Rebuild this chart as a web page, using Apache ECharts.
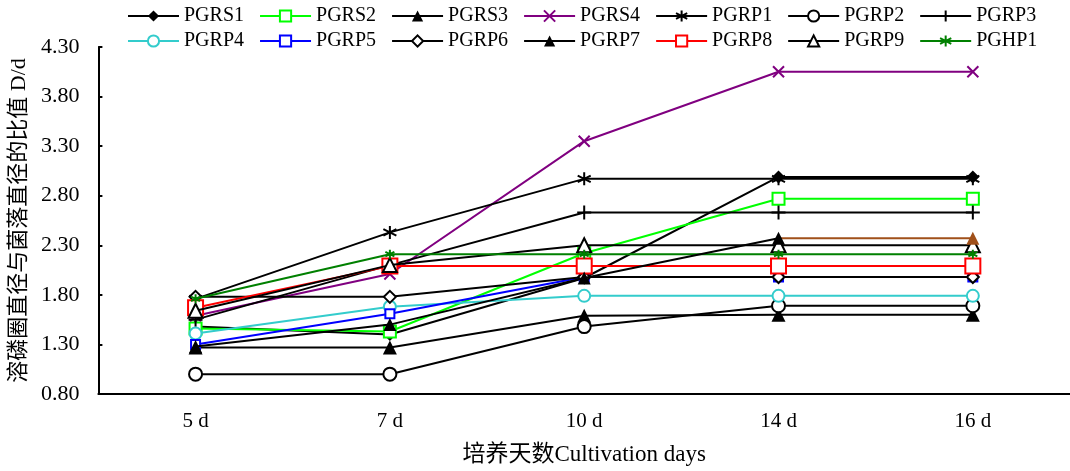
<!DOCTYPE html>
<html>
<head>
<meta charset="utf-8">
<script src="https://cdn.jsdelivr.net/npm/echarts@6/dist/echarts.min.js"></script>
<style>html,body{margin:0;padding:0;background:#fff;}#c{width:1070px;height:471px;}</style>
</head>
<body>
<div id="c"></div>
<script>
const days = ['5 d', '7 d', '10 d', '14 d', '16 d'];
const yTicks = { min: 0.8, max: 4.3, step: 0.5 };
const names = ['PGRS1','PGRS2','PGRS3','PGRS4','PGRP1','PGRP2','PGRP3','PGRP4','PGRP5','PGRP6','PGRP7','PGRP8','PGRP9','PGHP1'];
const PGRS1 = [1.48, 1.40, 1.97, 2.99, 2.99];
const PGRS2 = [1.46, 1.43, 2.22, 2.77, 2.77];
const PGRS3 = [1.27, 1.27, 1.59, 1.60, 1.60];
const PGRS4 = [1.59, 2.01, 3.35, 4.05, 4.05];
const PGRP1 = [1.76, 2.43, 2.97, 2.97, 2.97];
const PGRP2 = [1.00, 1.00, 1.48, 1.69, 1.69];
const PGRP3 = [1.55, 2.10, 2.63, 2.63, 2.63];
const PGRP4 = [1.41, 1.68, 1.79, 1.79, 1.79];
const PGRP5 = [1.30, 1.61, 1.98, 1.98, 1.98];
const PGRP6 = [1.78, 1.78, 1.98, 1.98, 1.98];
const PGRP7 = [1.28, 1.50, 1.97, 2.37, 2.37];
const PGRP8 = [1.67, 2.09, 2.09, 2.09, 2.09];
const PGRP9 = [1.64, 2.10, 2.30, 2.30, 2.30];
const PGHP1 = [1.76, 2.21, 2.21, 2.21, 2.21];
const values = [PGRS1,PGRS2,PGRS3,PGRS4,PGRP1,PGRP2,PGRP3,PGRP4,PGRP5,PGRP6,PGRP7,PGRP8,PGRP9,PGHP1];

const ASTER = 'path://M5,0L5,10M0.7,2.5L9.3,7.5M0.7,7.5L9.3,2.5';
const XMARK = 'path://M0,0L10,10M0,10L10,0';
const PLUS = 'path://M5,0L5,10M1,5L9,5';
const styles = [
  { color: '#000000', symbol: 'diamond', size: 13, filled: true },
  { color: '#00ff00', symbol: 'emptyRect', size: 12 },
  { color: '#000000', symbol: 'triangle', size: 14, filled: true },
  { color: '#800080', symbol: XMARK, size: 11 },
  { color: '#000000', symbol: ASTER, size: 13 },
  { color: '#000000', symbol: 'emptyCircle', size: 13 },
  { color: '#000000', symbol: PLUS, size: 14 },
  { color: '#33cccc', symbol: 'emptyCircle', size: 12 },
  { color: '#0000ff', symbol: 'emptyRect', size: 9 },
  { color: '#000000', symbol: 'emptyDiamond', size: 12 },
  { color: '#000000', symbol: 'triangle', size: 13, filled: true, top: true },
  { color: '#ff0000', symbol: 'emptyRect', size: 15 },
  { color: '#000000', symbol: 'emptyTriangle', size: 14 },
  { color: '#008000', symbol: ASTER, size: 9 }
];

const FONT = '"Liberation Serif", "Noto Sans CJK SC", serif';
const series = names.map((n, i) => ({
  name: n,
  type: 'line',
  data: values[i].map((v, k) => [k, v]),
  symbol: styles[i].symbol,
  symbolSize: styles[i].size,
  showAllSymbol: true,
  lineStyle: { width: 2 },
  color: styles[i].color,
  itemStyle: styles[i].filled ? { borderWidth: 0 } : { borderColor: styles[i].color, borderWidth: 2 },
  z: styles[i].top ? 30 : 2 + i
}));

const legendCommon = {
  left: 122,
  orient: 'horizontal',
  itemWidth: 51,
  itemHeight: 14,
  itemGap: 15,
  textStyle: { fontFamily: FONT, fontSize: 20, color: '#000' }
};

const chart = echarts.init(document.getElementById('c'), null, { renderer: 'canvas' });
chart.setOption({
  animation: false,
  backgroundColor: '#fff',
  legend: [
    Object.assign({ top: 1, data: names.slice(0, 7) }, legendCommon),
    Object.assign({ top: 26, data: names.slice(7) }, legendCommon)
  ],
  grid: { left: 97, top: 47, width: 977, height: 348 },
  xAxis: {
    type: 'category',
    data: days,
    boundaryGap: true,
    name: '培养天数Cultivation days',
    nameLocation: 'middle',
    nameGap: 49,
    nameTextStyle: { fontFamily: FONT, fontSize: 23, color: '#000' },
    axisLine: { lineStyle: { color: '#000', width: 2 } },
    axisTick: { inside: true, length: 5, lineStyle: { color: '#000', width: 2 } },
    axisLabel: { fontFamily: FONT, fontSize: 21, color: '#000', margin: 17 },
    splitLine: { show: false }
  },
  yAxis: {
    type: 'value',
    min: yTicks.min,
    max: yTicks.max,
    interval: yTicks.step,
    name: '溶磷圈直径与菌落直径的比值 D/d',
    nameLocation: 'middle',
    nameRotate: 90,
    nameGap: 63,
    nameTextStyle: { fontFamily: FONT, fontSize: 22, color: '#000' },
    axisLine: { show: true, lineStyle: { color: '#000', width: 2 } },
    axisTick: { show: true, inside: true, length: 4, lineStyle: { color: '#000', width: 2 } },
    axisLabel: { fontFamily: FONT, fontSize: 22, color: '#000', margin: 19, formatter: v => v.toFixed(2) },
    splitLine: { show: false }
  },
  visualMap: {
    show: false,
    type: 'piecewise',
    seriesIndex: 10,
    dimension: 0,
    pieces: [{ gt: 3, lte: 4, color: '#a0501a' }],
    outOfRange: { color: '#000000' }
  },
  series: series
});
</script>
</body>
</html>
